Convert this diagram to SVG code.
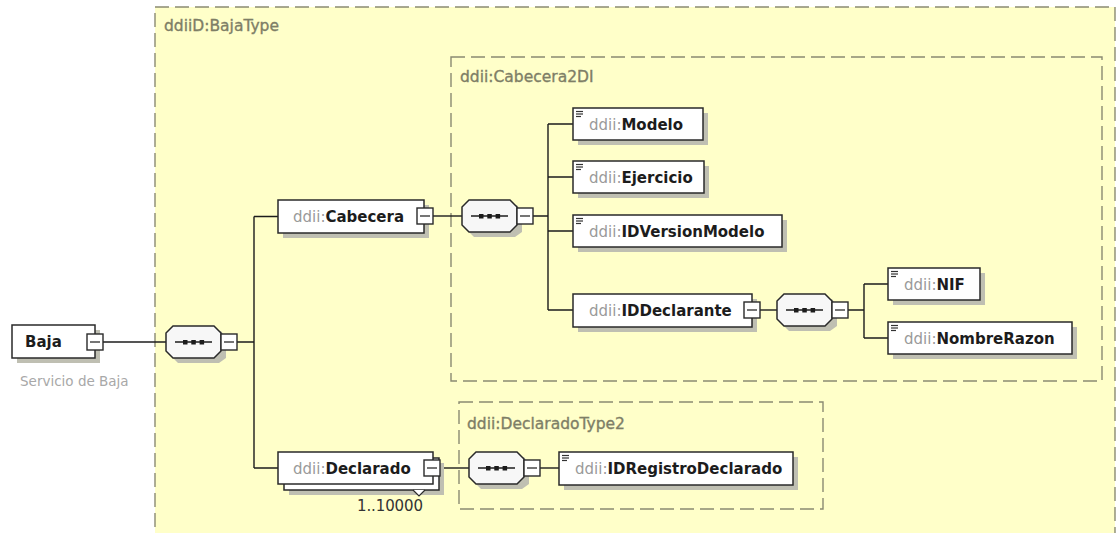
<svg xmlns="http://www.w3.org/2000/svg" xmlns:xlink="http://www.w3.org/1999/xlink" width="1119" height="533" viewBox="0 0 1119 533">
<style>
.dash{fill:none;stroke:#8a8a72;stroke-width:1.4;stroke-dasharray:14 6}
.dashfill{fill:#FFFFC9;stroke:#8a8a72;stroke-width:1.4;stroke-dasharray:14 6}
.tlabel{font-family:"DejaVu Sans",sans-serif;font-size:15.5px;fill:#7e7e66;stroke:#7e7e66;stroke-width:0.35}
.box{fill:#ffffff;stroke:#2a2a2a;stroke-width:1.5}
.shadow{fill:#bfbfb2}
.ns{font-family:"DejaVu Sans",sans-serif;font-size:15px;fill:#9a9a9a}
.nm{font-weight:bold;fill:#1c1c1c}
.conn{fill:none;stroke:#1c1c1c;stroke-width:1.4}
.ann{font-family:"DejaVu Sans",sans-serif;font-size:13.5px;fill:#a8a8a8}
.occ{font-family:"DejaVu Sans",sans-serif;font-size:15px;fill:#333333}
.icon{stroke:#333;stroke-width:1.2}
</style>
<defs>
<g id="seq">
<polygon class="shadow" points="12,5 55,5 60,12 60,32 53,37 12,37 5,30 5,12"/>
<polygon points="7,0 48,0 55,7 55,25 48,32 7,32 0,25 0,7" fill="#f7f7f7" stroke="#2a2a2a" stroke-width="1.5"/>
<line x1="9" y1="16" x2="46" y2="16" stroke="#1c1c1c" stroke-width="1.4"/>
<rect x="17" y="14" width="4.5" height="4.5" fill="#1c1c1c"/>
<rect x="25.3" y="14" width="4.5" height="4.5" fill="#1c1c1c"/>
<rect x="33.6" y="14" width="4.5" height="4.5" fill="#1c1c1c"/>
</g>
<g id="minus">
<rect x="0" y="0" width="16" height="16" fill="#ffffff" stroke="#2a2a2a" stroke-width="1.4"/>
<line x1="3" y1="8" x2="13" y2="8" stroke="#2a2a2a" stroke-width="1.3"/>
</g>
<g id="ico">
<line class="icon" x1="0" y1="0.5" x2="7" y2="0.5"/>
<line class="icon" x1="0" y1="3" x2="7" y2="3"/>
<line class="icon" x1="0" y1="5.5" x2="5" y2="5.5"/>
</g>
</defs>

<rect x="0" y="0" width="1119" height="533" fill="#ffffff"/>

<g id="type-BajaType">
<rect class="dashfill" x="155" y="7" width="960" height="600"/>
<text class="tlabel" x="164" y="31">ddiiD:BajaType</text>
</g>
<g id="type-Cabecera2DI">
<rect class="dash" x="451" y="57" width="651" height="324"/>
<text class="tlabel" x="460" y="82">ddii:Cabecera2DI</text>
</g>
<g id="type-DeclaradoType2">
<rect class="dash" x="459" y="402" width="364" height="107"/>
<text class="tlabel" x="467" y="429">ddii:DeclaradoType2</text>
</g>

<g id="connectors">
<path class="conn" d="M103,342 H166"/>
<path class="conn" d="M237,342 H254 M254,216.5 V468 M254,216.5 H278 M254,468 H278"/>
<path class="conn" d="M433,216 H462"/>
<path class="conn" d="M533,216 H548 M548,124 V310 M548,124 H573 M548,177 H573 M548,231 H573 M548,310 H573"/>
<path class="conn" d="M760,310 H777"/>
<path class="conn" d="M848,310 H864 M864,284 V338 M864,284 H888 M864,338 H888"/>
<path class="conn" d="M440,468 H469"/>
<path class="conn" d="M540,468 H559"/>
</g>

<g id="node-Baja">
<rect class="shadow" x="17" y="330" width="83" height="33"/>
<rect class="box" x="12" y="325" width="83" height="33"/>
<use xlink:href="#minus" x="87" y="334"/>
<text class="ns nm" x="25" y="347">Baja</text>
<text class="ann" x="20" y="386">Servicio de Baja</text>
</g>

<g id="seq-1"><use xlink:href="#seq" x="166" y="326"/><use xlink:href="#minus" x="221" y="334"/></g>

<g id="node-Cabecera">
<rect class="shadow" x="283" y="205" width="146" height="33"/>
<rect class="box" x="278" y="200" width="146" height="33"/>
<use xlink:href="#minus" x="417" y="208"/>
<text class="ns" x="293" y="222">ddii:<tspan class="nm">Cabecera</tspan></text>
</g>

<g id="seq-2"><use xlink:href="#seq" x="462" y="200"/><use xlink:href="#minus" x="517" y="208"/></g>

<g id="node-Modelo">
<rect class="shadow" x="578" y="113" width="130" height="32"/>
<rect class="box" x="573" y="108" width="130" height="32"/>
<use xlink:href="#ico" x="576" y="111"/>
<text class="ns" x="589" y="130">ddii:<tspan class="nm">Modelo</tspan></text>
</g>

<g id="node-Ejercicio">
<rect class="shadow" x="578" y="166" width="131" height="32"/>
<rect class="box" x="573" y="161" width="131" height="32"/>
<use xlink:href="#ico" x="576" y="164"/>
<text class="ns" x="589" y="183">ddii:<tspan class="nm">Ejercicio</tspan></text>
</g>

<g id="node-IDVersionModelo">
<rect class="shadow" x="578" y="220" width="209" height="32"/>
<rect class="box" x="573" y="215" width="209" height="32"/>
<use xlink:href="#ico" x="576" y="218"/>
<text class="ns" x="589" y="237">ddii:<tspan class="nm">IDVersionModelo</tspan></text>
</g>

<g id="node-IDDeclarante">
<rect class="shadow" x="578" y="299" width="179" height="33"/>
<rect class="box" x="573" y="294" width="179" height="33"/>
<use xlink:href="#minus" x="744" y="302"/>
<text class="ns" x="589" y="316">ddii:<tspan class="nm">IDDeclarante</tspan></text>
</g>

<g id="seq-3"><use xlink:href="#seq" x="777" y="294"/><use xlink:href="#minus" x="832" y="302"/></g>

<g id="node-NIF">
<rect class="shadow" x="893" y="273" width="92" height="32"/>
<rect class="box" x="888" y="268" width="92" height="32"/>
<use xlink:href="#ico" x="891" y="271"/>
<text class="ns" x="904" y="290">ddii:<tspan class="nm">NIF</tspan></text>
</g>

<g id="node-NombreRazon">
<rect class="shadow" x="893" y="327" width="184" height="32"/>
<rect class="box" x="888" y="322" width="184" height="32"/>
<use xlink:href="#ico" x="891" y="325"/>
<text class="ns" x="904" y="344">ddii:<tspan class="nm">NombreRazon</tspan></text>
</g>

<g id="node-Declarado">
<rect class="shadow" x="289" y="463" width="155" height="32"/>
<rect class="box" x="284" y="458" width="155" height="32"/>
<polyline points="413,490 419,496 425,490" fill="#ffffff" stroke="#2a2a2a" stroke-width="1.2"/>
<rect class="box" x="278" y="452" width="155" height="32"/>
<use xlink:href="#minus" x="424" y="460"/>
<text class="ns" x="293" y="474">ddii:<tspan class="nm">Declarado</tspan></text>
<text class="occ" x="357" y="511" textLength="66">1..10000</text>
</g>

<g id="seq-4"><use xlink:href="#seq" x="469" y="452"/><use xlink:href="#minus" x="524" y="460"/></g>

<g id="node-IDRegistroDeclarado">
<rect class="shadow" x="564" y="457" width="234" height="33"/>
<rect class="box" x="559" y="452" width="234" height="33"/>
<use xlink:href="#ico" x="562" y="455"/>
<text class="ns" x="575" y="474">ddii:<tspan class="nm">IDRegistroDeclarado</tspan></text>
</g>
</svg>
